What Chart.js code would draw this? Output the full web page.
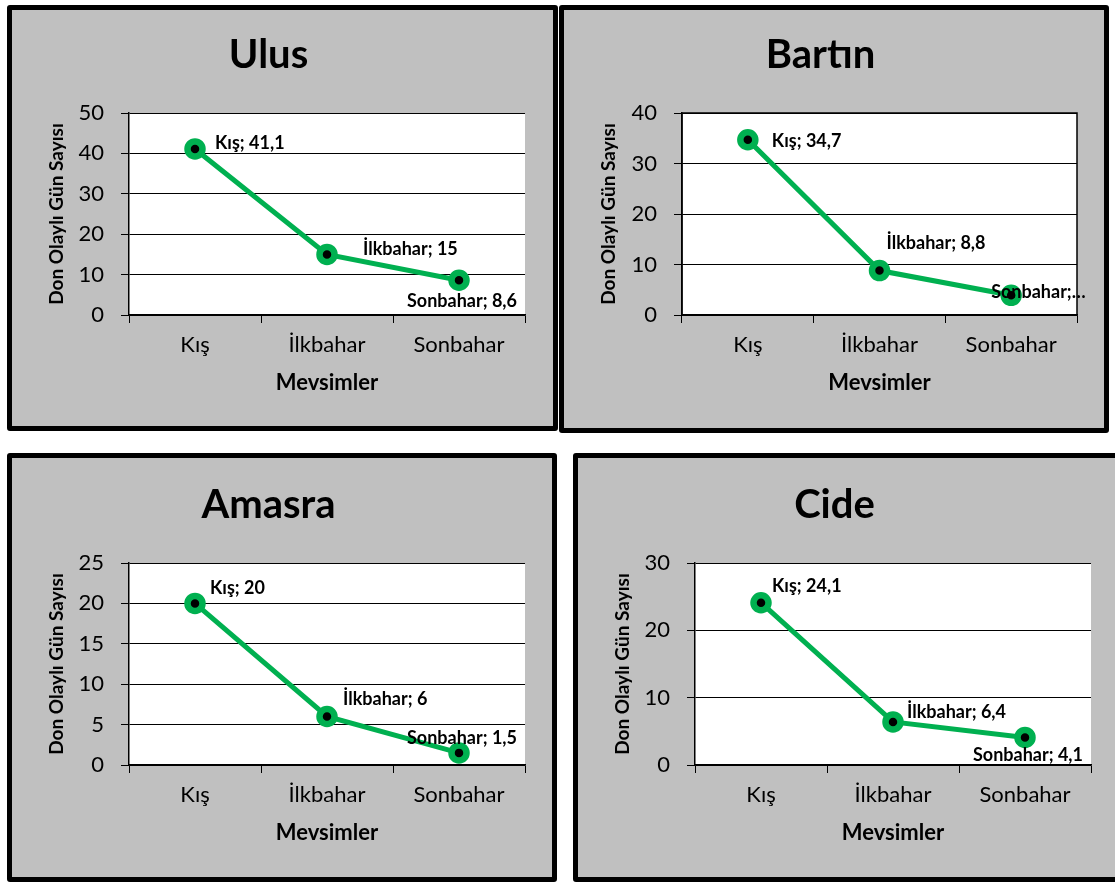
<!DOCTYPE html>
<html>
<head>
<meta charset="utf-8">
<script src="https://cdn.jsdelivr.net/npm/chart.js@4/dist/chart.umd.min.js"></script>
<style>
  body { margin: 0; background: #fff; width: 1115px; height: 883px; overflow: hidden; position: relative; }
  .panel { position: absolute; box-sizing: border-box; border: 5px solid #000; border-radius: 3px; background: #c0c0c0; }
  .panel canvas { display: block; }
</style>
</head>
<body>
<div class="panel" style="left:7px;top:5px;width:551px;height:426px"><canvas id="ulus" width="541" height="416"></canvas></div>
<div class="panel" style="left:559px;top:5px;width:550px;height:428px"><canvas id="bartin" width="540" height="418"></canvas></div>
<div class="panel" style="left:7px;top:453px;width:550px;height:429px"><canvas id="amasra" width="540" height="419"></canvas></div>
<div class="panel" style="left:573px;top:453px;width:560px;height:429px"><canvas id="cide" width="550" height="419"></canvas></div>
<script>
// seasons on the x axis
var seasons = ['Kış', 'İlkbahar', 'Sonbahar'];

// frost days per season for each station
var ulusValues = [41.1, 15, 8.6];
var bartinValues = [34.7, 8.8, 3.9];
var amasraValues = [20, 6, 1.5];
var cideValues = [24.1, 6.4, 4.1];

// y axis ranges
var ulusTicks = { max: 50, step: 10 };
var bartinTicks = { max: 40, step: 10 };
var amasraTicks = { max: 25, step: 5 };
var cideTicks = { max: 30, step: 10 };

var GREEN = '#00b050';
var FONT = 'Lato, Carlito, Calibri, sans-serif';
var TITLE_SIZE = 40, TICK_SIZE = 22, XTITLE_SIZE = 22, YTITLE_SIZE = 19, LABEL_SIZE = 18;

function fmt(v) { return String(v).replace('.', ','); }

function fitText(ctx, text, maxW) {
    if (!maxW || ctx.measureText(text).width <= maxW) return text;
    var t = text;
    while (t.length > 1 && ctx.measureText(t + '…').width > maxW) t = t.slice(0, -1);
    return t.replace(/\s+$/, '') + '…';
}

var plotBg = {
    id: 'plotBg',
    beforeDraw: function (chart) {
        var a = chart.chartArea, ctx = chart.ctx;
        ctx.save();
        ctx.fillStyle = '#fff';
        ctx.fillRect(a.left, a.top, a.right - a.left, a.bottom - a.top);
        ctx.restore();
    },
    beforeDatasetsDraw: function (chart, args, opts) {
        if (!opts.frame) return;
        var a = chart.chartArea, ctx = chart.ctx;
        ctx.save();
        ctx.strokeStyle = '#000';
        ctx.lineWidth = 1.5;
        ctx.strokeRect(a.left, a.top, a.right - a.left, a.bottom - a.top);
        ctx.restore();
    }
};

var pointLabels = {
    id: 'pointLabels',
    afterDatasetsDraw: function (chart, args, opts) {
        var ctx = chart.ctx;
        var meta = chart.getDatasetMeta(0);
        var values = chart.data.datasets[0].data;
        ctx.save();
        ctx.font = 'bold ' + LABEL_SIZE + 'px ' + FONT;
        ctx.fillStyle = '#000';
        ctx.textBaseline = 'middle';
        meta.data.forEach(function (pt, i) {
            var o = opts.offsets[i];
            var text = fitText(ctx, chart.data.labels[i] + '; ' + fmt(values[i]), opts.maxWidth);
            ctx.textAlign = o.align;
            ctx.fillText(text, pt.x + o.dx, pt.y + o.dy);
        });
        ctx.restore();
    }
};

function makeChart(id, cfg) {
    var canvas = document.getElementById(id);
    var W = canvas.width, H = canvas.height;
    var a = cfg.area;
    var titleLh = TITLE_SIZE * 1.2;
    return new Chart(canvas.getContext('2d'), {
        type: 'line',
        data: {
            labels: seasons,
            datasets: [{
                data: cfg.values,
                borderColor: GREEN,
                borderWidth: 5,
                pointRadius: 7.5,
                pointHoverRadius: 7.5,
                pointBorderWidth: 6.5,
                pointBorderColor: GREEN,
                pointBackgroundColor: '#000',
                tension: 0,
                clip: false
            }]
        },
        options: {
            responsive: false,
            animation: false,
            devicePixelRatio: 1,
            layout: { padding: { left: 0, right: W - a.right, top: 0, bottom: 0 } },
            plugins: {
                legend: { display: false },
                tooltip: { enabled: false },
                title: {
                    display: true,
                    text: cfg.title,
                    color: '#000',
                    font: { family: FONT, size: TITLE_SIZE, weight: 'bold', lineHeight: 1.2 },
                    padding: { top: cfg.titleY - titleLh / 2, bottom: a.top - cfg.titleY - titleLh / 2 }
                },
                plotBg: { frame: !!cfg.frame },
                pointLabels: { offsets: cfg.offsets, maxWidth: cfg.labelMaxWidth }
            },
            scales: {
                x: {
                    offset: true,
                    grid: { offset: true, drawOnChartArea: false, drawTicks: true, tickLength: 8, color: '#000', lineWidth: 1 },
                    border: { color: '#000', width: 1.5 },
                    ticks: { color: '#000', font: { family: FONT, size: TICK_SIZE }, padding: 9, maxRotation: 0 },
                    title: {
                        display: true,
                        text: 'Mevsimler',
                        color: '#000',
                        font: { family: FONT, size: XTITLE_SIZE, weight: 'bold', lineHeight: 1.2 },
                        padding: { top: 0, bottom: H - cfg.xTitleY - XTITLE_SIZE * 0.6 }
                    },
                    afterFit: function (s) { s.height = H - a.bottom; }
                },
                y: {
                    min: 0,
                    max: cfg.ticks.max,
                    grid: { color: '#000', lineWidth: 1, tickLength: 8 },
                    border: { color: '#000', width: 1.5 },
                    ticks: { stepSize: cfg.ticks.step, color: '#000', font: { family: FONT, size: TICK_SIZE }, padding: 17 },
                    title: {
                        display: true,
                        text: 'Don Olaylı Gün Sayısı',
                        color: '#000',
                        font: { family: FONT, size: YTITLE_SIZE, weight: 'bold', lineHeight: 1.2 },
                        padding: { top: cfg.yTitleX - YTITLE_SIZE * 0.6, bottom: 0 }
                    },
                    afterFit: function (s) { s.width = a.left; }
                }
            }
        },
        plugins: [plotBg, pointLabels]
    });
}

makeChart('ulus', {
    title: 'Ulus', values: ulusValues, ticks: ulusTicks,
    area: { left: 117, right: 513, top: 103, bottom: 305 },
    titleY: 45, xTitleY: 373, yTitleX: 45,
    offsets: [{ dx: 20, dy: -6, align: 'left' }, { dx: 36, dy: -5, align: 'left' }, { dx: 3, dy: 21, align: 'center' }]
});

makeChart('bartin', {
    title: 'Bartın', values: bartinValues, ticks: bartinTicks,
    area: { left: 118, right: 513, top: 103, bottom: 305 },
    titleY: 45, xTitleY: 373, yTitleX: 45, frame: true, labelMaxWidth: 100,
    offsets: [{ dx: 24, dy: 1, align: 'left' }, { dx: 7, dy: -27, align: 'left' }, { dx: -20, dy: -3, align: 'left' }]
});

makeChart('amasra', {
    title: 'Amasra', values: amasraValues, ticks: amasraTicks,
    area: { left: 117, right: 513, top: 105, bottom: 307 },
    titleY: 47, xTitleY: 375, yTitleX: 45,
    offsets: [{ dx: 15, dy: -15, align: 'left' }, { dx: 16, dy: -17, align: 'left' }, { dx: 3, dy: -15, align: 'center' }]
});

makeChart('cide', {
    title: 'Cide', values: cideValues, ticks: cideTicks,
    area: { left: 117, right: 513, top: 105, bottom: 307 },
    titleY: 47, xTitleY: 375, yTitleX: 45,
    offsets: [{ dx: 11, dy: -17, align: 'left' }, { dx: 14, dy: -10, align: 'left' }, { dx: 3, dy: 18, align: 'center' }]
});
</script>
</body>
</html>
